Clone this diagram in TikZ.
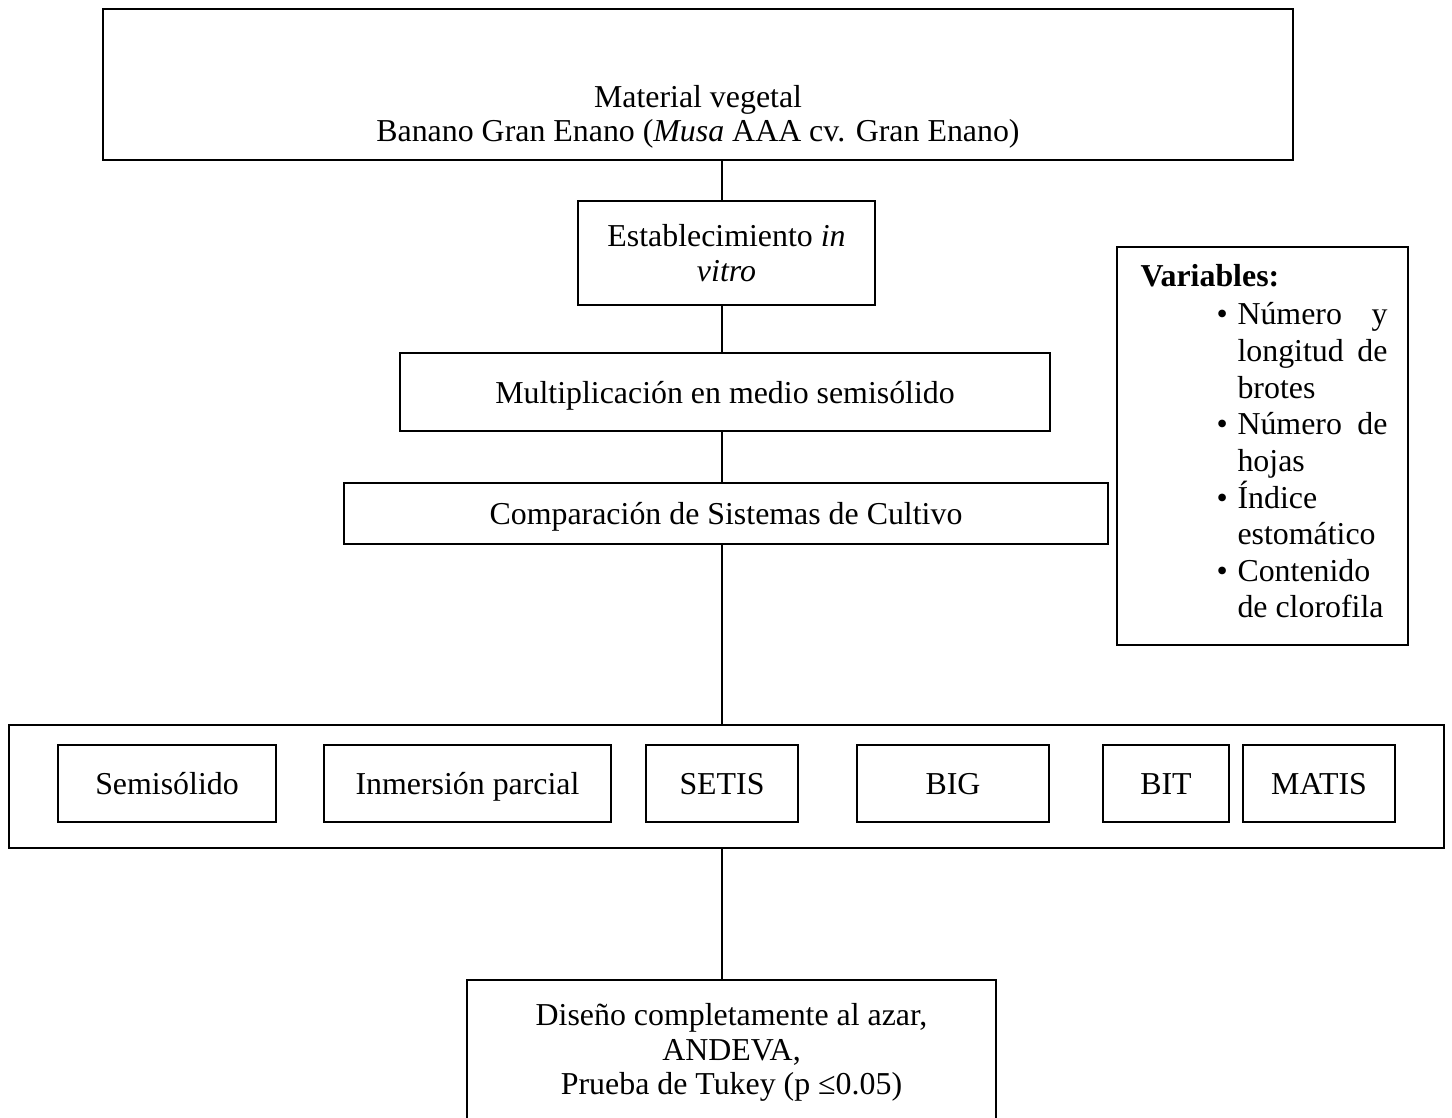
\documentclass[tikz,border=0pt]{standalone}
\usepackage{fontspec}
\setmainfont{Liberation Serif}
\begin{document}
\begin{tikzpicture}[x=0.4pt,y=-0.4pt,
  box/.style={draw, line width=1.1pt, inner sep=0pt, align=center, font=\fontsize{12.75}{13.8}\selectfont},
  one/.style={text height=11.8pt, text depth=2.9pt},
  conn/.style={line width=0.9pt},
  txt/.style={inner sep=0pt, anchor=base west, font=\fontsize{12.75}{14}\selectfont}]
\clip (0,0) rectangle (1452,1118);
\fill[white] (0,0) rectangle (1452,1118);
\coordinate (spine) at (722,0);

\node[box, minimum width={1190*0.4pt}, minimum height={151*0.4pt}] (mat) at (698,84.5)
  {\rule{0pt}{34.6pt}Material vegetal\\Banano Gran Enano (\textit{Musa} AAA cv. Gran Enano)};
\node[box, minimum width={297*0.4pt}, minimum height={104*0.4pt}] (est) at (726.5,253)
  {Establecimiento \textit{in}\\\textit{vitro}};
\node[box, one, minimum width={650*0.4pt}, minimum height={78*0.4pt}] (mul) at (725,392)
  {Multiplicación en medio semisólido};
\node[box, one, minimum width={764*0.4pt}, minimum height={61*0.4pt}] (com) at (726,513.5)
  {Comparación de Sistemas de Cultivo};

% Variables box
\node[box, minimum width={291*0.4pt}, minimum height={398*0.4pt}] (var) at (1262.5,446) {};
\node[txt, font=\fontsize{12.75}{14}\selectfont\bfseries] (v0) at (1140,287) {Variables:};
\node[txt] (b1) at (1216,325) {•};
\node[txt] (v1) at (1237,325) {\makebox[60pt][s]{Número\hfill y}};
\node[txt] (v2) at (1237,361.6) {\makebox[60pt][s]{longitud\hfill de}};
\node[txt] (v3) at (1237,398.2) {brotes};
\node[txt] (b2) at (1216,434.8) {•};
\node[txt] (v4) at (1237,434.8) {\makebox[60pt][s]{Número\hfill de}};
\node[txt] (v5) at (1237,471.4) {hojas};
\node[txt] (b3) at (1216,508) {•};
\node[txt] (v6) at (1237,508) {Índice};
\node[txt] (v7) at (1237,544.6) {estomático};
\node[txt] (b4) at (1216,581.2) {•};
\node[txt] (v8) at (1237,581.2) {Contenido};
\node[txt] (v9) at (1237,617.8) {de clorofila};

% Systems container
\node[box, minimum width={1435*0.4pt}, minimum height={123*0.4pt}] (sys) at (726.5,786.5) {};
\node[box, one, minimum width={218*0.4pt}, minimum height={77*0.4pt}] (s1) at (167,783.5) {Semisólido};
\node[box, one, minimum width={287*0.4pt}, minimum height={77*0.4pt}] (s2) at (467.5,783.5) {Inmersión parcial};
\node[box, one, minimum width={152*0.4pt}, minimum height={77*0.4pt}] (s3) at (722,783.5) {SETIS};
\node[box, one, minimum width={192*0.4pt}, minimum height={77*0.4pt}] (s4) at (953,783.5) {BIG};
\node[box, one, minimum width={126*0.4pt}, minimum height={77*0.4pt}] (s5) at (1166,783.5) {BIT};
\node[box, one, minimum width={152*0.4pt}, minimum height={77*0.4pt}] (s6) at (1319,783.5) {MATIS};

% Bottom box
\node[box, minimum width={529*0.4pt}, minimum height={145*0.4pt}] (dis) at (731.5,1052.5)
  {Diseño completamente al azar,\\ANDEVA,\\Prueba de Tukey (p ≤0.05)};

\draw[conn] (mat.south -| spine) -- (est.north -| spine);
\draw[conn] (est.south -| spine) -- (mul.north -| spine);
\draw[conn] (mul.south -| spine) -- (com.north -| spine);
\draw[conn] (com.south -| spine) -- (sys.north -| spine);
\draw[conn] (sys.south -| spine) -- (dis.north -| spine);
\end{tikzpicture}
\end{document}
